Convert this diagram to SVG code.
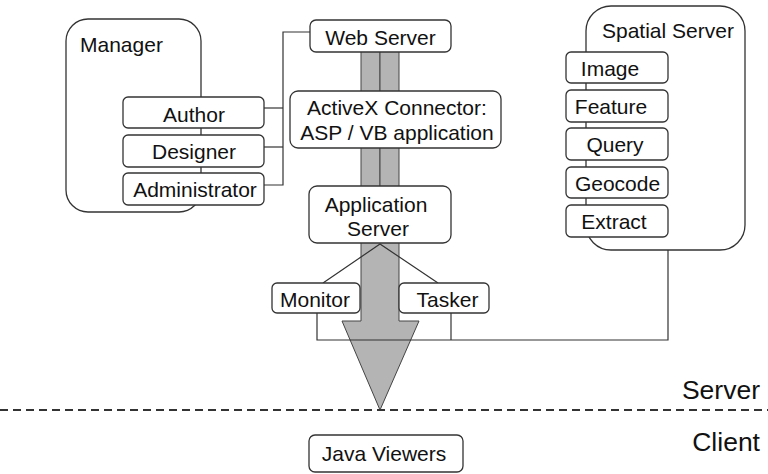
<svg xmlns="http://www.w3.org/2000/svg" width="768" height="474" viewBox="0 0 768 474">
<style>
.box{fill:#fff;stroke:#333;stroke-width:1.3}
.grp{fill:#fff;stroke:#333;stroke-width:1.3}
.ln{fill:none;stroke:#333;stroke-width:1.2}
.bar{fill:#b4b4b4;stroke:#444;stroke-width:1}
text{font-family:"Liberation Sans",Arial,sans-serif;font-size:21px;fill:#111}
.c{text-anchor:middle}
.r{text-anchor:end;font-size:26.5px}
</style>
<rect width="768" height="474" fill="#fff"/>
<g id="manager">
<rect class="grp" x="66" y="19" width="135" height="193" rx="22"/>
<text x="80" y="52">Manager</text>
</g>
<g id="spatial-server">
<rect class="grp" x="586" y="6" width="159" height="244" rx="25"/>
<text x="602" y="38">Spatial Server</text>
</g>
<g id="pipe">
<rect class="bar" x="361" y="40" width="19" height="160"/>
<rect class="bar" x="380" y="40" width="19" height="160"/>
<polygon class="bar" points="361,236 399,236 399,321 419,321 380,410 342,321 361,321"/>
</g>
<g id="connectors">
<polyline class="ln" points="264,108 283,108"/>
<polyline class="ln" points="264,147 283,147"/>
<polyline class="ln" points="264,185 283,185 283,32 310,32"/>
<polyline class="ln" points="323,283 380,244 438,283"/>
<polyline class="ln" points="317,313 317,340 668,340 668,250"/>
<polyline class="ln" points="451,313 451,340"/>
</g>
<g id="author"><rect class="box" x="123" y="97" width="141" height="31" rx="5"/><text class="c" x="194" y="122">Author</text></g>
<g id="designer"><rect class="box" x="123" y="135" width="141" height="32" rx="5"/><text class="c" x="194" y="159">Designer</text></g>
<g id="administrator"><rect class="box" x="123" y="173" width="141" height="32" rx="5"/><text class="c" x="195" y="197">Administrator</text></g>
<g id="web-server"><rect class="box" x="310" y="20" width="141" height="32" rx="6"/><text class="c" x="380.5" y="45">Web Server</text></g>
<g id="activex"><rect class="box" x="290" y="91" width="211" height="57" rx="8"/><text class="c" x="397" y="115">ActiveX Connector:</text><text class="c" x="397" y="140">ASP / VB application</text></g>
<g id="application-server"><rect class="box" x="309" y="186" width="142" height="57" rx="8"/><text class="c" x="376" y="212">Application</text><text class="c" x="378" y="236">Server</text></g>
<g id="monitor"><rect class="box" x="272" y="283" width="88" height="30" rx="5"/><text class="c" x="315" y="307">Monitor</text></g>
<g id="tasker"><rect class="box" x="399" y="283" width="90" height="30" rx="5"/><text class="c" x="447.5" y="307">Tasker</text></g>
<g id="image"><rect class="box" x="566" y="52" width="102" height="31" rx="5"/><text class="c" x="610" y="76">Image</text></g>
<g id="feature"><rect class="box" x="566" y="90" width="102" height="32" rx="5"/><text class="c" x="611" y="114">Feature</text></g>
<g id="query"><rect class="box" x="566" y="128" width="102" height="32" rx="5"/><text class="c" x="615" y="152">Query</text></g>
<g id="geocode"><rect class="box" x="566" y="167" width="102" height="31" rx="5"/><text class="c" x="617.5" y="191">Geocode</text></g>
<g id="extract"><rect class="box" x="566" y="205" width="102" height="32" rx="5"/><text class="c" x="614" y="229">Extract</text></g>
<g id="divider">
<line x1="0" y1="410" x2="768" y2="410" stroke="#333" stroke-width="2" stroke-dasharray="8 5"/>
<text class="r" x="760" y="399">Server</text>
<text class="r" x="760" y="451">Client</text>
</g>
<g id="java-viewers"><rect class="box" x="309" y="435" width="154" height="37" rx="6"/><text class="c" x="384" y="461">Java Viewers</text></g>
</svg>
